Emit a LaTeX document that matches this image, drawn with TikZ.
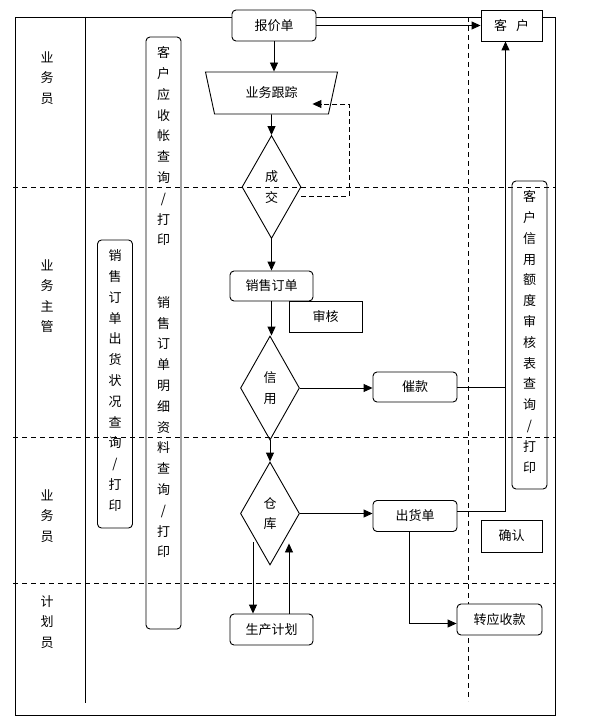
\documentclass[tikz,border=0pt]{standalone}
\usepackage{fontspec}
\setmainfont{Noto Sans CJK SC}
\usetikzlibrary{
  shapes.geometric,
  arrows.meta,
  positioning,
  calc,
}
\definecolor{ink}{HTML}{000000}
\definecolor{paper}{HTML}{FFFFFF}
\tikzset{
  every node/.style={
    font=\fontsize{13pt}{20.8pt}\selectfont,
    text=ink,
    align=center,
    inner sep=0pt,
  },
  proc/.style={
    rectangle, rounded corners=4pt,
    draw=ink, line width=0.9pt,
    fill=paper,
    minimum width=84pt, minimum height=31pt,
  },
  plainbox/.style={
    rectangle,
    draw=ink, line width=0.9pt,
    fill=paper,
    minimum width=61pt, minimum height=31pt,
  },
  decide/.style={
    diamond,
    draw=ink, line width=0.9pt,
    minimum width=59pt, minimum height=103pt,
  },
  manual/.style={
    trapezium, shape border rotate=180,
    trapezium left angle=53, trapezium right angle=53,
    trapezium stretches body=true,
    draw=ink, line width=0.9pt,
    minimum width=132pt, minimum height=42pt,
  },
  vbar/.style={
    rectangle, rounded corners=4pt,
    draw=ink, line width=0.9pt,
    minimum width=35pt,
  },
  vtext/.style={
    anchor=north,
  },
  lane/.style={
    font=\fontsize{13pt}{20.5pt}\selectfont,
  },
  frame/.style={
    draw=ink, line width=0.9pt,
  },
  sep/.style={
    draw=ink, line width=0.9pt, dash pattern=on 5pt off 4pt,
  },
  flow/.style={
    -{Triangle[length=9pt,width=8pt]},
    draw=ink, line width=0.9pt,
  },
  back/.style={
    -{Triangle[length=9pt,width=8pt]},
    draw=ink, line width=0.9pt, dash pattern=on 5pt off 3pt,
  },
}

\begin{document}
\begin{tikzpicture}[x=1pt, y=-1pt]
\useasboundingbox (0,0) rectangle (608,725);

% ============================================
% Frame and lanes (y grows downwards)
% ============================================
\draw[frame] (15,17) rectangle (555,715);
\draw[frame] (85,17) -- (85,703);
\foreach \y in {187,437,583}
  \draw[sep] (13,\y) -- (555,\y);
\draw[sep] (468,17) -- (468,701);

\node[lane] (lane1) at (47,78)  {业\\务\\员};
\node[lane] (lane2) at (47,296) {业\\务\\主\\管};
\node[lane] (lane3) at (47,516) {业\\务\\员};
\node[lane] (lane4) at (47,622) {计\\划\\员};

% ----- query bars -----
\node[vbar, minimum height=592pt] (arbar) at (163.5,333) {};
\node[vtext] (artext) at ([yshift=-10pt]arbar.north)
  {客\\户\\应\\收\\帐\\查\\询\\/\\打\\印\\[41.6pt]销\\售\\订\\单\\明\\细\\资\\料\\查\\询\\/\\打\\印};

\node[vbar, minimum height=288pt] (shipbar) at (115,384) {};
\node[vtext] (shiptext) at ([yshift=-10pt]shipbar.north)
  {销\\售\\订\\单\\出\\货\\状\\况\\查\\询\\/\\打\\印};

\node[vbar, minimum height=308pt] (limitbar) at (529.5,335) {};
\node[vtext] (limittext) at ([yshift=-10pt]limitbar.north)
  {客\\户\\信\\用\\额\\度\\审\\核\\表\\查\\询\\/\\打\\印};

% ----- main column -----
\node[proc]     (quote)   at (274,25.5)  {报价单};
\node[plainbox] (client)  at (511.5,25.5) {客\hspace{9pt}户};
\node[manual]   (track)   at (271.5,93)  {业务跟踪};
\node[decide]   (deal)    at (271.5,187) {成\\交};
\node[proc, minimum width=83pt, minimum height=30pt] (order) at (271.5,286) {销售订单};
\node[plainbox, minimum width=73pt] (audit) at (325.5,316.5) {审核};
\node[decide, minimum height=104pt] (credit) at (270,388) {信\\用};
\node[proc, minimum height=30pt] (dun)  at (415,387)   {催款};
\node[decide]   (store)   at (270,513.5) {仓\\库};
\node[proc]     (ship)    at (415,516)   {出货单};
\node[plainbox, minimum height=32pt] (confirm) at (511.5,536) {确认};
\node[proc, minimum width=83pt] (plan) at (271.5,629.5) {生产计划};
\node[proc, minimum width=85pt] (recv) at (499.5,619.5) {转应收款};

\coordinate (riser)  at ([xshift=-6pt]client.south);
\coordinate (backin) at ($(track.east)+(-21,11)$);
\coordinate (todown) at ($(store.south)+(-17,-23)$);
\coordinate (toup)   at ($(store.south)+(19,-22)$);

% ============================================
% Connectors
% ============================================
\draw[flow] (quote) -- (client);
\draw[flow] (quote.south) -- (quote.south |- track.north);
\draw[flow] (track) -- (deal);
% not closed -> back to follow-up
\draw[back] ([yshift=-9pt]deal.east) -| ([xshift=37pt]backin) -- (backin);
\draw[flow] (deal) -- (order);
\draw[flow] (order.south) -- (order.south |- credit.north);
\draw[flow] (credit.east) -- (credit.east -| dun.west);
\draw[frame] (dun.east) -- (dun.east -| riser);
\draw[flow] (credit) -- (store);
\draw[flow] (store.east) -- (store.east -| ship.west);
\draw[flow] ([yshift=5pt]ship.east) -| (riser);
\draw[flow] ([xshift=-6pt]ship.south) |- ([yshift=-4pt]recv.west);
\draw[flow] (todown) -- (todown |- plan.north);
\draw[flow] (toup |- plan.north) -- (toup);

\end{tikzpicture}
\end{document}
